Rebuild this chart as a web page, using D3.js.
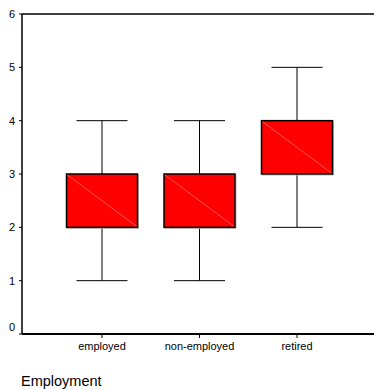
<!DOCTYPE html>
<meta charset="utf-8">
<style>
  body { margin: 0; background: #fff; }
  text { font-family: "Liberation Sans", Arial, sans-serif; fill: #000; }
</style>
<svg width="374" height="390"></svg>
<script src="https://d3js.org/d3.v7.min.js"></script>
<script>
var categories = ["employed", "non-employed", "retired"]
var mins   = [1, 1, 2]
var q1s    = [2, 2, 3]
var q3s    = [3, 3, 4]
var maxs   = [4, 4, 5]
var yTicks = [0, 1, 2, 3, 4, 5, 6]

var data = categories.map(function (c, i) {
  return { cat: c, min: mins[i], q1: q1s[i], q3: q3s[i], max: maxs[i] }
})

var svg = d3.select("svg")
var plotLeft = 22, plotRight = 374, plotTop = 14, plotBottom = 334

var x = d3.scalePoint().domain(categories).range([102, 297])
var y = d3.scaleLinear().domain([0, 6]).range([plotBottom, plotTop])

var boxW = 71, capW = 51

// top frame line
svg.append("line")
  .attr("x1", plotLeft).attr("x2", plotRight).attr("y1", y(6)).attr("y2", y(6))
  .attr("stroke", "#000").attr("stroke-width", 1.5)

// y axis
svg.append("line")
  .attr("x1", plotLeft).attr("x2", plotLeft).attr("y1", y(6)).attr("y2", plotBottom)
  .attr("stroke", "#000").attr("stroke-width", 1.5)

var yt = svg.append("g")
yt.selectAll("line").data(yTicks).enter().append("line")
  .attr("x1", plotLeft - 3).attr("x2", plotLeft)
  .attr("y1", function (d) { return y(d) }).attr("y2", function (d) { return y(d) })
  .attr("stroke", "#000")
yt.selectAll("text").data(yTicks).enter().append("text")
  .attr("x", 15).attr("text-anchor", "end")
  .attr("y", function (d) { return y(d) + (d === 0 ? -7 : 0) })
  .attr("dy", "0.35em")
  .attr("font-size", 11)
  .text(function (d) { return d })

// whiskers
var g = svg.append("g").selectAll("g").data(data).enter().append("g")
g.append("line")
  .attr("x1", function (d) { return x(d.cat) }).attr("x2", function (d) { return x(d.cat) })
  .attr("y1", function (d) { return y(d.max) }).attr("y2", function (d) { return y(d.min) })
  .attr("stroke", "#000")
g.append("line")
  .attr("x1", function (d) { return x(d.cat) - capW / 2 }).attr("x2", function (d) { return x(d.cat) + capW / 2 })
  .attr("y1", function (d) { return y(d.max) }).attr("y2", function (d) { return y(d.max) })
  .attr("stroke", "#000")
g.append("line")
  .attr("x1", function (d) { return x(d.cat) - capW / 2 }).attr("x2", function (d) { return x(d.cat) + capW / 2 })
  .attr("y1", function (d) { return y(d.min) }).attr("y2", function (d) { return y(d.min) })
  .attr("stroke", "#000")

// box shadow
g.append("rect")
  .attr("x", function (d) { return x(d.cat) - boxW / 2 + 1 })
  .attr("y", function (d) { return y(d.q3) + 1 })
  .attr("width", boxW).attr("height", function (d) { return y(d.q1) - y(d.q3) })
  .attr("fill", "none").attr("stroke", "#bbb").attr("stroke-width", 1)
// box
g.append("rect")
  .attr("x", function (d) { return x(d.cat) - boxW / 2 })
  .attr("y", function (d) { return y(d.q3) })
  .attr("width", boxW).attr("height", function (d) { return y(d.q1) - y(d.q3) })
  .attr("fill", "#ff0000").attr("stroke", "#000").attr("stroke-width", 1.5)
// diagonal highlight
g.append("line")
  .attr("x1", function (d) { return x(d.cat) - boxW / 2 + 1 })
  .attr("y1", function (d) { return y(d.q3) + 1 })
  .attr("x2", function (d) { return x(d.cat) + boxW / 2 - 1 })
  .attr("y2", function (d) { return y(d.q1) - 1 })
  .attr("stroke", "#ff6a6a").attr("stroke-width", 0.8)

// x axis
svg.append("line")
  .attr("x1", plotLeft).attr("x2", plotRight).attr("y1", plotBottom).attr("y2", plotBottom)
  .attr("stroke", "#000").attr("stroke-width", 2)
var xt = svg.append("g")
xt.selectAll("line").data(categories).enter().append("line")
  .attr("x1", function (d) { return x(d) }).attr("x2", function (d) { return x(d) })
  .attr("y1", plotBottom).attr("y2", plotBottom + 4)
  .attr("stroke", "#000")
xt.selectAll("text").data(categories).enter().append("text")
  .attr("x", function (d) { return x(d) }).attr("y", 350)
  .attr("text-anchor", "middle").attr("font-size", 11)
  .text(function (d) { return d })

svg.append("text")
  .attr("x", 21).attr("y", 386)
  .attr("font-size", 14.5)
  .text("Employment")
</script>
